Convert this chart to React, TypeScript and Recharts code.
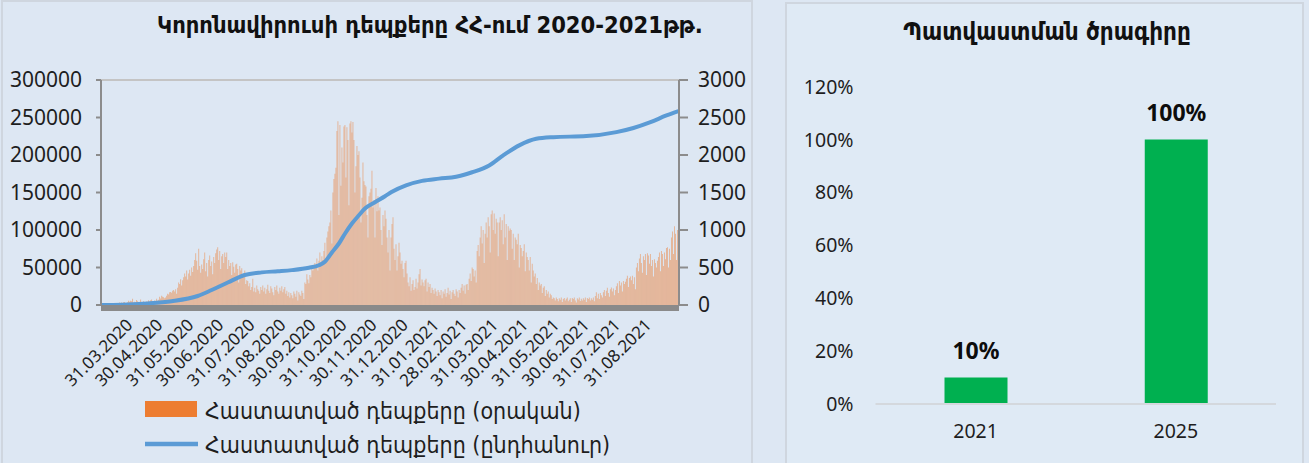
import React from 'react';
import { ComposedChart, BarChart, Bar, Line, XAxis, YAxis, ReferenceLine, LabelList } from 'recharts';

// ---------- Left chart: daily confirmed cases (right axis), by month ----------
const mar20 = [1,0,0,0,0,0,0,0,0,0,0,0,1,5,3,4,20,22,35,28,33,24,38,41,22,19,36,56,42,58,50];
const apr20 = [82,33,42,36,67,49,32,35,72,28,31,50,34,27,48,44,65,45,62,75,45,38,61,42,85,58,71,110,86,125];
const may20 = [110,105,90,100,125,150,140,170,175,165,190,200,180,210,150,230,300,280,345,260,330,370,420,380,460,340,420,470,390,500,440];
const jun20 = [520,600,690,590,470,750,520,430,540,480,610,700,450,560,380,600,660,520,580,410,640,560,690,740,770,600,720,480,650,680];
const jul20 = [560,700,640,700,480,600,520,560,400,570,510,430,540,550,480,300,520,460,490,380,420,460,280,330,320,250,290,200,240,350,180];
const aug20 = [230,170,260,210,190,150,240,200,260,180,230,150,210,270,190,160,250,220,170,130,240,200,260,180,150,230,190,250,170,210,240];
const sep20 = [150,190,120,170,100,160,130,90,180,150,110,190,60,170,140,120,190,160,80,300,280,410,340,290,400,370,480,460,520,560];
const oct20 = [500,620,460,590,700,540,650,600,720,830,560,900,980,1050,1100,1260,820,1500,1680,1750,1830,2320,2450,1200,2400,1590,2100,1900,2380,2400,1700];
const nov20 = [2370,2200,1330,2420,2450,2300,2440,2200,1500,1850,2120,2000,2050,1700,1100,1430,1900,1650,1600,1580,1200,900,1450,1500,1550,1790,1300,1400,900,1560];
const dec20 = [1250,1450,1260,1300,1000,800,1200,1050,1260,1150,900,700,1000,460,900,1080,1170,750,600,810,460,650,830,700,550,590,480,370,560,590,420];
const jan21 = [300,250,370,190,280,330,200,240,350,220,300,410,480,260,340,300,250,330,350,180,300,240,280,160,230,200,150,220,180,120,200];
const feb21 = [170,130,200,90,180,150,210,110,160,230,140,190,80,170,200,150,120,210,180,100,200,160,230,280,190,260,150,270];
const mar21 = [280,200,350,420,320,500,480,380,460,300,720,800,650,900,1050,820,1000,560,950,1100,900,1170,1050,700,1210,1260,1000,1220,950,1150,1100];
const apr21 = [650,1100,1170,1000,1130,810,1210,900,1080,600,1050,990,1020,1000,750,950,600,900,870,810,950,500,800,760,650,720,810,450,700,640];
const may21 = [600,460,640,300,550,460,380,420,280,360,200,300,260,280,160,230,250,120,200,150,180,100,150,130,80,100,90,60,100,80,50];
const jun21 = [90,70,100,40,80,95,60,85,100,50,70,90,40,95,80,100,60,35,90,75,100,55,85,60,90,70,100,40,95,80];
const jul21 = [100,60,90,70,100,50,120,170,90,150,80,160,130,100,170,200,120,190,230,160,110,210,235,180,220,130,200,250,290,160,320];
const aug21 = [260,300,180,320,280,310,350,390,240,360,380,330,390,280,370,210,500,560,450,620,680,560,430,650,600,680,400,690,660,550,680];
const sep21 = [520,600,380,610,560,500,590,640,700,450,720,680,520,700,610,760,770,500,750,600,900,980,680,1050,950,600,1000,1080];

const dailyMonths: { year: number; month: number; values: number[] }[] = [
  { year: 2020, month: 3, values: mar20 },
  { year: 2020, month: 4, values: apr20 },
  { year: 2020, month: 5, values: may20 },
  { year: 2020, month: 6, values: jun20 },
  { year: 2020, month: 7, values: jul20 },
  { year: 2020, month: 8, values: aug20 },
  { year: 2020, month: 9, values: sep20 },
  { year: 2020, month: 10, values: oct20 },
  { year: 2020, month: 11, values: nov20 },
  { year: 2020, month: 12, values: dec20 },
  { year: 2021, month: 1, values: jan21 },
  { year: 2021, month: 2, values: feb21 },
  { year: 2021, month: 3, values: mar21 },
  { year: 2021, month: 4, values: apr21 },
  { year: 2021, month: 5, values: may21 },
  { year: 2021, month: 6, values: jun21 },
  { year: 2021, month: 7, values: jul21 },
  { year: 2021, month: 8, values: aug21 },
  { year: 2021, month: 9, values: sep21 },
];

// Cumulative confirmed cases (left axis), read at these dates
const totalDates = ['01.03.2020','21.03.2020','16.04.2020','10.05.2020','05.06.2020','19.06.2020','05.07.2020','22.07.2020','08.08.2020','24.08.2020','07.09.2020','24.09.2020','04.10.2020','10.10.2020','17.10.2020','24.10.2020','30.10.2020','06.11.2020','13.11.2020','19.11.2020','29.11.2020','09.12.2020','16.12.2020','30.12.2020','15.01.2021','01.02.2021','18.02.2021','06.03.2021','23.03.2021','06.04.2021','22.04.2021','09.05.2021','26.05.2021','28.06.2021','28.07.2021','14.08.2021','31.08.2021','16.09.2021','28.09.2021'];
const totalValues = [0,300,2000,5000,12000,20000,30000,40000,43500,45000,46500,49600,53000,57600,70000,82000,95000,108600,119700,128600,137000,145000,151000,159600,165500,168500,171000,177000,186000,199500,212800,221600,223800,225200,230500,236000,243800,252700,258400];

const xTickLabels = ['31.03.2020','30.04.2020','31.05.2020','30.06.2020','31.07.2020','31.08.2020','30.09.2020','31.10.2020','30.11.2020','31.12.2020','31.01.2021','28.02.2021','31.03.2021','30.04.2021','31.05.2021','30.06.2021','31.07.2021','31.08.2021'];
const leftTicks = [0, 50000, 100000, 150000, 200000, 250000, 300000];
const rightTicks = [0, 500, 1000, 1500, 2000, 2500, 3000];

const covidTitle = 'Կորոնավիրուսի դեպքերը ՀՀ-ում 2020-2021թթ.';
const dailyName = 'Հաստատված դեպքերը (օրական)';
const totalName = 'Հաստատված դեպքերը (ընդհանուր)';

// ---------- Right chart: vaccination plan ----------
const vaccYears = ['2021', '2025'];
const vaccShares = [0.1, 1.0];
const vaccTicks = [0, 0.2, 0.4, 0.6, 0.8, 1.0, 1.2];
const vaccTitle = 'Պատվաստման ծրագիրը';

const pad = (n: number) => (n < 10 ? '0' + n : '' + n);

const covidRows: { date: string; daily: number; total: number | null }[] = [];
dailyMonths.forEach(({ year, month, values }) => {
  values.forEach((v, i) => {
    covidRows.push({ date: `${pad(i + 1)}.${pad(month)}.${year}`, daily: v, total: null });
  });
});
totalDates.forEach((d, i) => {
  const row = covidRows.find((r) => r.date === d);
  if (row) row.total = totalValues[i];
});

const vaccRows = vaccYears.map((y, i) => ({ year: y, share: vaccShares[i] }));

const NUM_FONT = '"Noto Sans", "DejaVu Sans", sans-serif';
const ARM_FONT = '"DejaVu Sans Condensed", "DejaVu Sans", sans-serif';
const TEXT = '#1e1e1e';

const DateTick = (props: any) => {
  const { x, y, payload } = props;
  const ax = x + 2;
  const ay = y + 13;
  return (
    <text x={ax} y={ay} transform={`rotate(-45 ${ax} ${ay})`} textAnchor="end" fontSize={17} fill={TEXT} fontFamily={NUM_FONT}>
      {payload.value}
    </text>
  );
};

export default function App() {
  return (
    <div style={{ position: 'fixed', left: 0, top: 0, width: 1309, height: 463, background: '#dde7f3', overflow: 'hidden' }}>
      <div style={{ position: 'absolute', left: 1, top: 0, width: 752, height: 470, boxSizing: 'border-box', border: '2px solid #cfd6df' }} />
      <div style={{ position: 'absolute', left: 785, top: 2, width: 519, height: 470, boxSizing: 'border-box', border: '2px solid #cfd6df', background: '#dfeaf5' }} />

      <div style={{ position: 'absolute', left: 0, top: 11, width: 860, textAlign: 'center', fontFamily: ARM_FONT, fontWeight: 'bold', fontSize: 23.5, color: '#111', whiteSpace: 'nowrap' }}>
        {covidTitle}
      </div>

      <div style={{ position: 'absolute', left: 0, top: 0 }}>
        <ComposedChart width={752} height={463} data={covidRows} margin={{ top: 80, right: 0, bottom: 98, left: 0 }} barCategoryGap={0} barGap={0}>
          <XAxis
            dataKey="date"
            ticks={xTickLabels}
            interval={0}
            height={60}
            tick={<DateTick />}
            tickLine={false}
            axisLine={{ stroke: '#8a8a8a', strokeWidth: 6, transform: 'translate(0,3)' }}
          />
          <YAxis
            yAxisId="left"
            orientation="left"
            width={101}
            domain={[0, 300000]}
            ticks={leftTicks}
            interval={0}
            tick={{ fontSize: 21, fill: TEXT, fontFamily: NUM_FONT }}
            tickSize={5}
            tickMargin={14}
            axisLine={{ stroke: '#8c8c8c', strokeWidth: 2 }}
            tickLine={{ stroke: '#8c8c8c', strokeWidth: 2 }}
          />
          <YAxis
            yAxisId="right"
            orientation="right"
            width={73}
            domain={[0, 3000]}
            ticks={rightTicks}
            interval={0}
            tick={{ fontSize: 21, fill: TEXT, fontFamily: NUM_FONT }}
            tickSize={9}
            tickMargin={10}
            axisLine={{ stroke: '#8c8c8c', strokeWidth: 2 }}
            tickLine={{ stroke: '#8c8c8c', strokeWidth: 2 }}
          />
          <ReferenceLine yAxisId="left" y={300000} stroke="#c4c4c4" strokeWidth={2} />
          <Bar yAxisId="right" dataKey="daily" name={dailyName} fill="#ed7d31" fillOpacity={0.45} isAnimationActive={false} />
          <Line yAxisId="left" dataKey="total" name={totalName} type="monotone" stroke="#5b9bd5" strokeWidth={4} dot={false} connectNulls isAnimationActive={false} />
        </ComposedChart>
      </div>

      {/* legend of the left chart */}
      <svg style={{ position: 'absolute', left: 0, top: 390 }} width={720} height={73}>
        <rect x={145} y={11} width={52} height={16} fill="#ed7d31" />
        <text x={205} y={29} fontSize={23} fill={TEXT} fontFamily={ARM_FONT}>{dailyName}</text>
        <line x1={145} x2={198} y1={54} y2={54} stroke="#5b9bd5" strokeWidth={4.5} />
        <text x={205} y={63} fontSize={23} fill={TEXT} fontFamily={ARM_FONT}>{totalName}</text>
      </svg>

      <div style={{ position: 'absolute', left: 787, top: 18, width: 520, textAlign: 'center', fontFamily: ARM_FONT, fontWeight: 'bold', fontSize: 24, color: '#111', whiteSpace: 'nowrap' }}>
        {vaccTitle}
      </div>

      <div style={{ position: 'absolute', left: 760, top: 0 }}>
        <BarChart width={549} height={463} data={vaccRows} margin={{ top: 86.7, right: 33, bottom: 14, left: 0 }}>
          <XAxis
            dataKey="year"
            height={45}
            tickLine={false}
            axisLine={{ stroke: '#d4d8dd', strokeWidth: 2 }}
            tick={{ fontSize: 19.5, fill: TEXT, fontFamily: NUM_FONT }}
            tickMargin={14}
          />
          <YAxis
            width={115.5}
            domain={[0, 1.2]}
            ticks={vaccTicks}
            interval={0}
            tickFormatter={(v: number) => `${Math.round(v * 100)}%`}
            axisLine={false}
            tickLine={false}
            tick={{ fontSize: 19.5, fill: TEXT, fontFamily: NUM_FONT }}
            tickMargin={16}
          />
          <Bar dataKey="share" fill="#00b050" barSize={63} isAnimationActive={false}>
            <LabelList
              dataKey="share"
              position="top"
              offset={19}
              formatter={(v: any) => `${Math.round(Number(v) * 100)}%`}
              style={{ fontSize: 23, fontWeight: 'bold', fill: '#0d0d0d', fontFamily: NUM_FONT }}
            />
          </Bar>
        </BarChart>
      </div>
    </div>
  );
}
